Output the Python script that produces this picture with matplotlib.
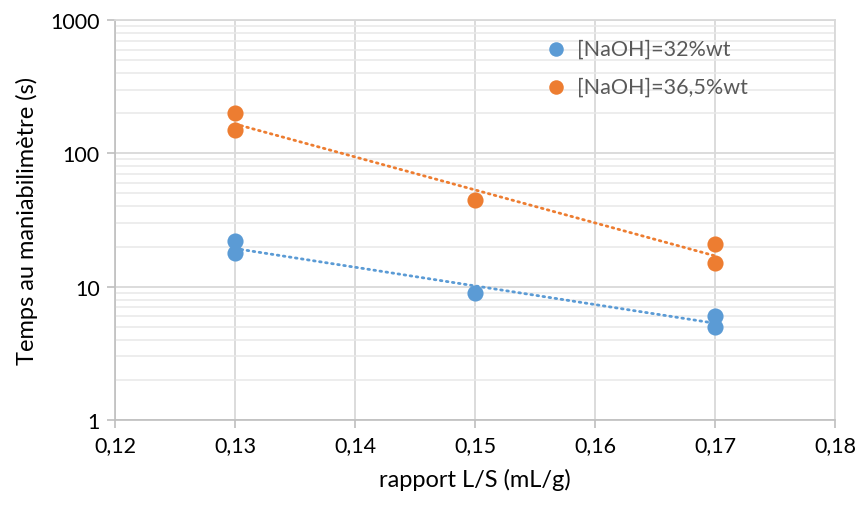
import numpy as np
import matplotlib.pyplot as plt
from matplotlib.ticker import FixedLocator, LogLocator, NullFormatter

plt.rcParams['font.family'] = ['Lato', 'DejaVu Sans']

# data
ratio_32 = [0.13, 0.13, 0.15, 0.17, 0.17]
time_32 = [22, 18, 9, 6, 5]
ratio_365 = [0.13, 0.13, 0.15, 0.17, 0.17]
time_365 = [200, 150, 45, 21, 15]

labels = ['[NaOH]=32%wt', '[NaOH]=36,5%wt']
colors = ['#5B9BD5', '#ED7D31']
x_ticks = [0.12, 0.13, 0.14, 0.15, 0.16, 0.17, 0.18]

fig = plt.figure(figsize=(8.57, 5.06), dpi=100)
ax = fig.add_axes([115 / 857, 85 / 506, 720 / 857, 400 / 506])

series = [(ratio_32, time_32), (ratio_365, time_365)]
for (x, y), lab, c in zip(series, labels, colors):
    x = np.array(x)
    y = np.array(y)
    ax.scatter(x, y, s=135, color=c, label=lab, zorder=3, linewidths=0)
    # exponential trendline (straight on log axis)
    b, a = np.polyfit(x, np.log10(y), 1)
    xs = np.array([x.min(), x.max()])
    ax.plot(xs, 10 ** (a + b * xs), color=c, lw=2, ls=(0, (0.6, 1.6)),
            dash_capstyle='round', zorder=2)

ax.set_yscale('log')
ax.set_ylim(1, 1000)
ax.set_xlim(0.12, 0.18)
ax.xaxis.set_major_locator(FixedLocator(x_ticks))
ax.set_xticklabels([('%.2f' % v).replace('.', ',') for v in x_ticks])
ax.yaxis.set_major_locator(FixedLocator([1, 10, 100, 1000]))
ax.set_yticklabels(['1', '10', '100', '1000'])
ax.yaxis.set_minor_locator(LogLocator(base=10, subs=np.arange(2, 10)))
ax.yaxis.set_minor_formatter(NullFormatter())

ax.grid(True, which='major', color='#D9D9D9', lw=1.3, zorder=0)
ax.grid(True, which='minor', axis='y', color='#E8E8E8', lw=1.1, zorder=0)
ax.set_axisbelow(True)

for side in ['left', 'bottom']:
    ax.spines[side].set_color('#BFBFBF')
    ax.spines[side].set_linewidth(1.2)
for side in ['top', 'right']:
    ax.spines[side].set_color('#D9D9D9')
    ax.spines[side].set_linewidth(1.3)

ax.tick_params(which='major', length=6, width=1.2, color='#BFBFBF',
               labelsize=15.5, labelcolor='#000000', pad=5)
ax.tick_params(which='minor', length=0)

ax.set_xlabel('rapport L/S (mL/g)', fontsize=17, labelpad=9)
ax.set_ylabel('Temps au maniabilimètre (s)', fontsize=17, labelpad=9)

leg = ax.legend(loc='upper left', bbox_to_anchor=(0.57, 0.975), frameon=False,
                fontsize=15.5, handletextpad=0.0, labelspacing=0.85,
                borderaxespad=0, markerscale=0.9)
for t in leg.get_texts():
    t.set_color('#595959')

fig.savefig('out.png', dpi=100)
